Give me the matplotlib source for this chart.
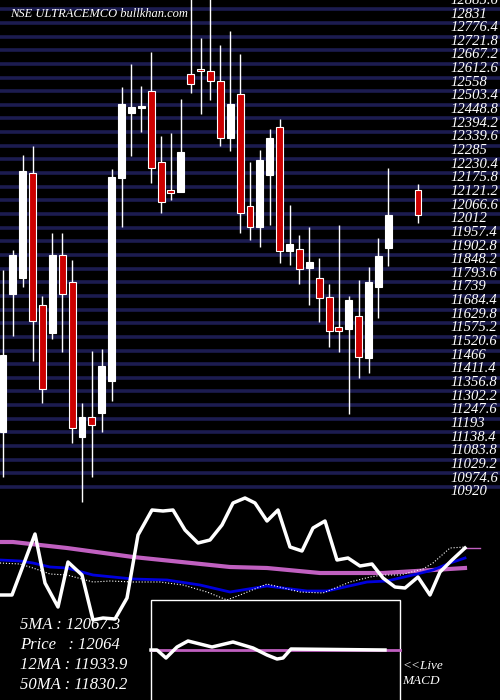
import matplotlib.pyplot as plt
import numpy as np

# candle index (gaps where no candle), open, high, low, close
idx = list(range(40)) + [42]
opens = [11159, 11711, 11775, 12195, 11667, 11555, 11867, 11759, 11139, 11219,
         11235, 11363, 12175, 12435, 12455, 12523, 12239, 12127, 12119, 12591,
         12611, 12603, 12563, 12335, 12511, 12063, 11979, 12187, 12379, 11883,
         11891, 11815, 11775, 11699, 11579, 11571, 11623, 11455, 11739, 11895,
         12127]
highs = [11807, 11887, 12267, 12303, 11703, 11955, 11955, 11847, 11275, 11483,
         11491, 12211, 12539, 12631, 12543, 12679, 12343, 12355, 12491, 12900,
         12735, 12900, 12707, 12763, 12671, 12239, 12287, 12371, 12411, 12067,
         11947, 11979, 11855, 11751, 11987, 11703, 11767, 11819, 11935, 12215,
         12151]
lows = [10979, 11543, 11739, 11443, 11275, 11531, 11479, 11115, 10879, 10979,
        11159, 11283, 11979, 12263, 12359, 12155, 12035, 12087, 12119, 12515,
        12431, 12487, 12303, 12283, 11955, 11927, 11899, 11987, 11835, 11827,
        11751, 11667, 11599, 11499, 11479, 11231, 11375, 11395, 11615, 11823,
        11995]
closes = [11467, 11867, 12203, 11603, 11331, 11867, 11711, 11175, 11219, 11187,
          11423, 12179, 12471, 12459, 12463, 12215, 12079, 12115, 12279, 12551,
          12603, 12563, 12335, 12471, 12035, 11979, 12247, 12335, 11883, 11911,
          11811, 11839, 11695, 11563, 11563, 11687, 11459, 11759, 11863, 12027,
          12027]

levels = [12885.6, 12831, 12776.4, 12721.8, 12667.2, 12612.6, 12558, 12503.4,
          12448.8, 12394.2, 12339.6, 12285, 12230.4, 12175.8, 12121.2, 12066.6,
          12012, 11957.4, 11902.8, 11848.2, 11793.6, 11739, 11684.4, 11629.8,
          11575.2, 11520.6, 11466, 11411.4, 11356.8, 11302.2, 11247.6, 11193,
          11138.4, 11083.8, 11029.2, 10974.6, 10920]

# lower panel lines, in panel pixels (x, y from top)
osc_x = [0, 12, 35, 45, 58, 68, 82, 93, 103, 115, 127, 138, 152, 163, 173, 185, 198, 210, 222, 233, 245, 255, 267, 278, 290, 302, 313, 325, 337, 348, 360, 372, 383, 395, 405, 418, 430, 440, 452, 465]
osc_y = [100, 100, 39, 88, 112, 67, 80, 125, 123, 124, 103, 40, 15, 16, 15, 35, 48, 45, 30, 8, 3, 8, 26, 15, 52, 56, 33, 26, 65, 63, 71, 69, 83, 92, 93, 82, 100, 77, 65, 53]
ma_x = [0, 13, 67, 133, 230, 267, 320, 383, 433, 465]
ma_y = [47, 47, 53, 62, 72, 73, 78, 78, 75, 73]
blue_x = [0, 20, 33, 50, 67, 93, 133, 167, 200, 230, 267, 307, 327, 367, 387, 417, 433, 450, 465]
blue_y = [65, 66, 68, 72, 73, 80, 84, 85, 90, 97, 91, 96, 96, 87, 86, 79, 75, 68, 63]
dot_x = [0, 20, 33, 50, 67, 93, 110, 133, 160, 183, 207, 227, 240, 267, 300, 323, 350, 370, 383, 400, 423, 433, 450, 465]
dot_y = [68, 69, 73, 79, 80, 87, 86, 87, 87, 90, 97, 105, 100, 89, 97, 98, 87, 82, 80, 80, 74, 68, 53, 52]
macd_x = [151, 157, 166, 177, 188, 200, 212, 233, 253, 267, 277, 283, 291, 385]
macd_y = [55, 55, 63, 52, 46, 49, 52, 47, 53, 60, 64, 63, 54, 55]

red = '#cc0000'
grid = '#1c1c50'
fig = plt.figure(figsize=(5, 7), dpi=100, facecolor='black')

ax = fig.add_axes([0, 1 - 503 / 700, 1, 503 / 700])
ax.set_facecolor('black')
ax.set_xlim(-0.3, 50.3)
ax.set_ylim(10875, 12887)
for lv in levels:
    ax.axhline(lv + 19, color=grid, lw=2.6, zorder=1)
    ax.text(45.3, lv, f'{lv:g}', color='white', fontsize=10.5, style='italic',
            family='Liberation Serif', ha='left', va='center', zorder=5)
for i, o, h, l, c in zip(idx, opens, highs, lows, closes):
    col = 'white' if c >= o else red
    ax.vlines(i, l, h, color='white', lw=1, zorder=2)
    ax.bar(i, max(abs(c - o), 6), bottom=min(o, c), width=0.7, color=col,
           edgecolor='white', lw=0.8, zorder=3)
ax.text(0.02, 0.985, 'NSE ULTRACEMCO bullkhan.com', transform=ax.transAxes,
        color='white', fontsize=9, style='italic', family='Liberation Serif',
        ha='left', va='top')
ax.axis('off')

lo = fig.add_axes([0, 0, 1, 205 / 700])
lo.set_facecolor('black')
lo.set_xlim(0, 500)
lo.set_ylim(205, 0)
lo.plot(ma_x, ma_y, color='#c060c0', lw=3)
lo.plot([465, 480], [53, 53], color='#c060c0', lw=1)
lo.plot(blue_x, blue_y, color='#0000dd', lw=2)
lo.plot(dot_x, dot_y, color='white', lw=0.8, ls=':')
lo.plot(osc_x, osc_y, color='white', lw=2.5)
lo.add_patch(plt.Rectangle((151, 105), 249, 110, fill=True, fc='black',
                           ec='white', lw=1, zorder=4))
lo.plot([151, 400], [155, 155], color='#c060c0', lw=2, zorder=5)
lo.plot(macd_x, [v + 100 for v in macd_y], color='white', lw=2.5, zorder=6)
labels = ['5MA : 12067.3', 'Price   : 12064', '12MA : 11933.9', '50MA : 11830.2']
for k, t in enumerate(labels):
    lo.text(20, 130 + k * 20, t, color='white', fontsize=12, style='italic',
            family='Liberation Serif', va='center', zorder=7)
lo.text(402, 171, '<<Live', color='white', fontsize=9.5, style='italic',
        family='Liberation Serif', va='center')
lo.text(402, 186, 'MACD', color='white', fontsize=9.5, style='italic',
        family='Liberation Serif', va='center')
lo.axis('off')

fig.savefig('out.png', dpi=100, facecolor='black')
